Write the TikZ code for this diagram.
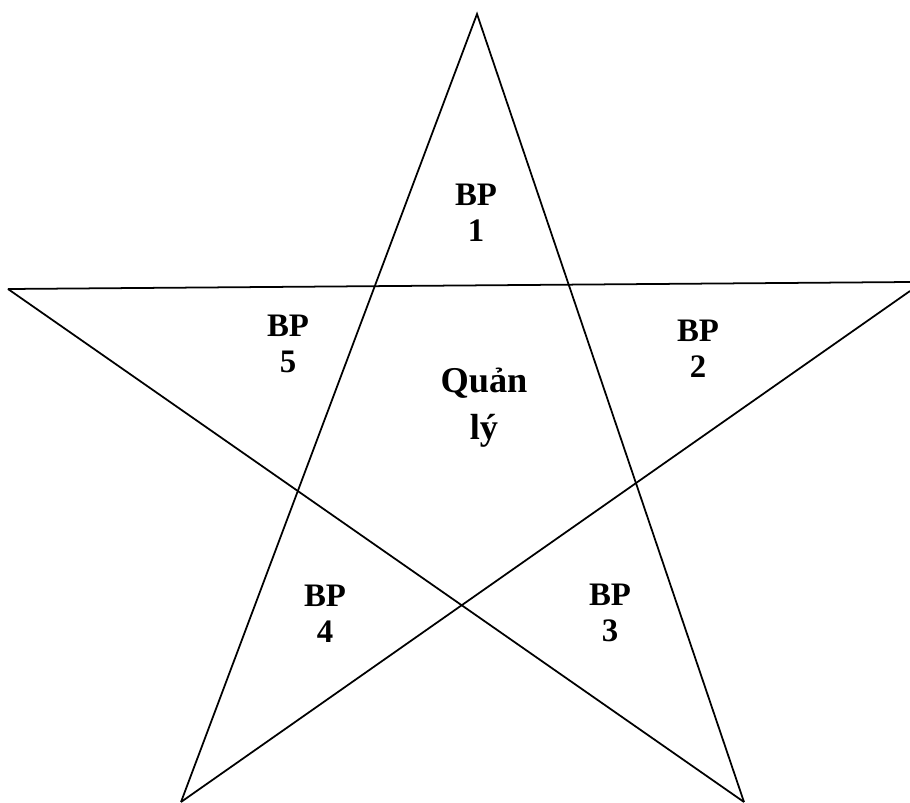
\documentclass[tikz,border=0pt]{standalone}
\usepackage{fontspec}
\setmainfont{Liberation Serif}

\begin{document}
\begin{tikzpicture}[x=.03cm,y=-.03cm,line width=1.5pt,
  part/.style={font=\fontsize{28}{31}\selectfont\bfseries,align=center,inner sep=0pt},
  head/.style={font=\fontsize{31}{40}\selectfont\bfseries,align=center,inner sep=0pt}]
\useasboundingbox (0,0) rectangle (910,803);
\coordinate (top) at (477,14);
\coordinate (left) at (8,289);
\coordinate (rightA) at (910,282);
\coordinate (rightB) at (910,291);
\coordinate (botL) at (181,802);
\coordinate (botR) at (744,802);
\draw (botL) -- (top) -- (botR);
\draw (left) -- (rightA);
\draw (left) -- (botR);
\draw (rightB) -- (botL);
\node[part] (bp1) at (476,213) {BP\\1};
\node[part] (bp5) at (288,344) {BP\\5};
\node[part] (bp2) at (698,349) {BP\\2};
\node[part] (bp4) at (325,614) {BP\\4};
\node[part] (bp3) at (610,613) {BP\\3};
\node[head] (ql) at (484,408) {Quản\\lý};
\end{tikzpicture}
\end{document}
